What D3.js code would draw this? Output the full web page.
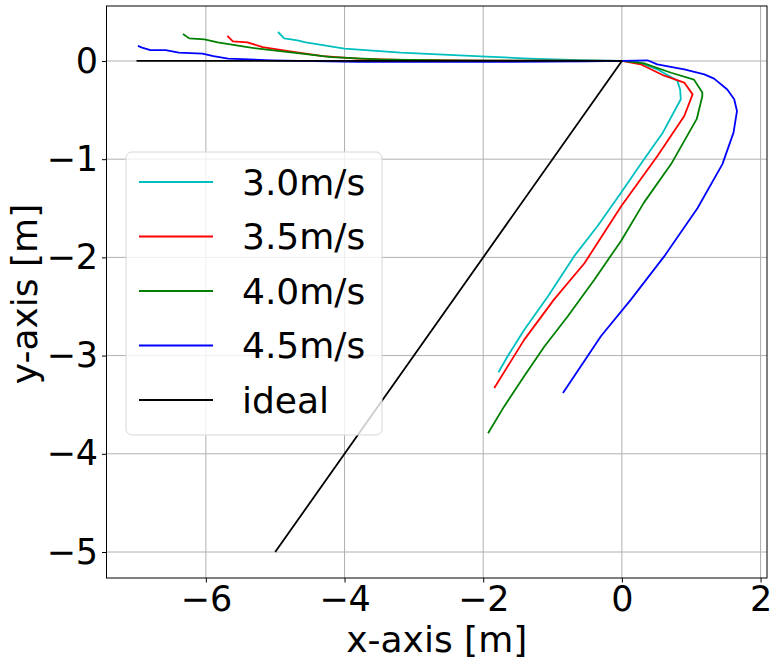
<!DOCTYPE html>
<html>
<head>
<meta charset="utf-8">
<script src="https://cdn.jsdelivr.net/npm/d3@7"></script>
<style>
  body { margin: 0; background: #fff; }
  text { font-family: "DejaVu Sans", sans-serif; fill: #000; }
</style>
</head>
<body>
<div id="chart"></div>
<script>
// trajectories (metres)
var v30X = [-4.96, -4.87, -4.68, -4.56, -4.0, -3.19, -1.95, -1.33, -0.6, 0, 0.23, 0.51, 0.80, 0.84, 0.85, 0.59, 0.32, -0.01, -0.35, -0.69, -1.07, -1.41, -1.65, -1.78];
var v30Y = [0.295, 0.23, 0.21, 0.19, 0.125, 0.085, 0.044, 0.024, 0.008, 0, -0.01, -0.085, -0.20, -0.29, -0.39, -0.73, -1.0, -1.34, -1.68, -1.99, -2.40, -2.74, -3.01, -3.17];

var v35X = [-5.69, -5.61, -5.40, -5.18, -4.81, -4.31, -3.81, -3.19, -2.0, -1.0, 0, 0.27, 0.61, 0.90, 1.02, 0.90, 0.51, -0.01, -0.54, -0.98, -1.41, -1.84];
var v35Y = [0.255, 0.20, 0.19, 0.14, 0.10, 0.05, 0.024, 0.01, 0.004, 0.002, 0, -0.034, -0.15, -0.22, -0.34, -0.56, -0.97, -1.48, -2.06, -2.43, -2.84, -3.33];

var v40X = [-6.33, -6.24, -6.02, -5.83, -5.40, -5.18, -4.68, -4.19, -3.5, -2.57, -1.0, 0, 0.32, 0.71, 1.04, 1.16, 1.16, 1.08, 0.71, 0.32, -0.01, -0.40, -0.78, -1.12, -1.41, -1.70, -1.93];
var v40Y = [0.275, 0.23, 0.22, 0.19, 0.14, 0.12, 0.08, 0.04, 0.017, 0.007, 0.002, 0, -0.024, -0.12, -0.19, -0.32, -0.36, -0.59, -1.05, -1.44, -1.83, -2.23, -2.60, -2.91, -3.21, -3.52, -3.79];

var v45X = [-6.98, -6.92, -6.80, -6.58, -6.39, -6.05, -5.89, -5.68, -5.06, -3.81, -1.95, -0.5, 0, 0.37, 0.51, 0.90, 1.19, 1.33, 1.52, 1.62, 1.66, 1.61, 1.45, 1.09, 0.61, 0.13, -0.30, -0.85];
var v45Y = [0.153, 0.136, 0.11, 0.11, 0.085, 0.075, 0.05, 0.024, 0.007, -0.01, -0.01, -0.005, 0, 0.007, -0.034, -0.085, -0.136, -0.18, -0.29, -0.39, -0.51, -0.73, -1.05, -1.50, -1.99, -2.43, -2.80, -3.38];

var idealX = [-7, 0, -5];
var idealY = [0, 0, -5];

var labels = ["3.0m/s", "3.5m/s", "4.0m/s", "4.5m/s", "ideal"];
var colors = ["#00bfbf", "#ff0000", "#008000", "#0000ff", "#000000"];
var xTicks = [-6, -4, -2, 0, 2];
var yTicks = [0, -1, -2, -3, -4, -5];

var series = [[v30X, v30Y], [v35X, v35Y], [v40X, v40Y], [v45X, v45Y], [idealX, idealY]].map(function(s, i) {
    return { name: labels[i], color: colors[i], pts: s[0].map(function(x, j) { return [x, s[1][j]]; }) };
});

// --> DRAWING AREA
var width = 778, height = 661;
var margin = {top: 6, right: 11, bottom: 83, left: 106.5};
var w = width - margin.left - margin.right;
var h = height - margin.top - margin.bottom;

var svg = d3.select("#chart").append("svg")
    .attr("width", width)
    .attr("height", height);
var g = svg.append("g")
    .attr("transform", "translate(" + margin.left + "," + margin.top + ")");

// matplotlib style 5% padding
function padded(vals) {
    var e = d3.extent(vals), p = (e[1] - e[0]) * 0.05;
    return [e[0] - p, e[1] + p];
}
var allX = [].concat(v30X, v35X, v40X, v45X, idealX);
var allY = [].concat(v30Y, v35Y, v40Y, v45Y, idealY);

var x = d3.scaleLinear().domain(padded(allX)).range([0, w]);
var y = d3.scaleLinear().domain(padded(allY)).range([h, 0]);

// grid
g.append("g").selectAll("line").data(xTicks).enter().append("line")
    .attr("x1", function(d) { return x(d); }).attr("x2", function(d) { return x(d); })
    .attr("y1", 0).attr("y2", h)
    .attr("stroke", "#b0b0b0").attr("stroke-width", 1);
g.append("g").selectAll("line").data(yTicks).enter().append("line")
    .attr("y1", function(d) { return y(d); }).attr("y2", function(d) { return y(d); })
    .attr("x1", 0).attr("x2", w)
    .attr("stroke", "#b0b0b0").attr("stroke-width", 1);

// lines
var line = d3.line()
    .x(function(d) { return x(d[0]); })
    .y(function(d) { return y(d[1]); });

g.selectAll(".traj").data(series).enter().append("path")
    .attr("class", "traj")
    .attr("d", function(d) { return line(d.pts); })
    .attr("fill", "none")
    .attr("stroke", function(d) { return d.color; })
    .attr("stroke-width", 1.8)
    .attr("stroke-linejoin", "round");

// axes
var fmt = function(d) { return d < 0 ? "\u2212" + Math.abs(d) : "" + d; };
var xAxis = g.append("g").attr("transform", "translate(0," + h + ")")
    .call(d3.axisBottom(x).tickValues(xTicks).tickFormat(fmt).tickSize(4.5).tickPadding(4));
var yAxis = g.append("g")
    .call(d3.axisLeft(y).tickValues(yTicks).tickFormat(fmt).tickSize(4.5).tickPadding(4));
[xAxis, yAxis].forEach(function(a) {
    a.select(".domain").remove();
    a.selectAll("text").style("font-size", "35px").style("font-family", "DejaVu Sans");
    a.selectAll("line").attr("stroke", "#000").attr("stroke-width", 1);
});

g.append("rect")
    .attr("width", w).attr("height", h)
    .attr("fill", "none").attr("stroke", "#000").attr("stroke-width", 1);

// axis labels
svg.append("text")
    .attr("x", margin.left + w / 2).attr("y", 652)
    .attr("text-anchor", "middle")
    .style("font-size", "36px")
    .text("x-axis [m]");
svg.append("text")
    .attr("transform", "translate(37," + (margin.top + h / 2 + 2) + ") rotate(-90)")
    .attr("text-anchor", "middle")
    .style("font-size", "36px")
    .text("y-axis [m]");

// legend
var legend = svg.append("g").attr("transform", "translate(126,152)");
legend.append("rect")
    .attr("width", 256).attr("height", 283)
    .attr("rx", 6).attr("ry", 6)
    .attr("fill", "rgba(255,255,255,0.8)")
    .attr("stroke", "#d6d6d6").attr("stroke-width", 1);

var item = legend.selectAll(".item").data(series).enter().append("g")
    .attr("class", "item")
    .attr("transform", function(d, i) { return "translate(0," + (30 + i * 54.5) + ")"; });
item.append("line")
    .attr("x1", 13).attr("x2", 87)
    .attr("stroke", function(d) { return d.color; })
    .attr("stroke-width", 1.8);
item.append("text")
    .attr("x", 116).attr("dy", "0.36em")
    .style("font-size", "36px")
    .text(function(d) { return d.name; });
</script>
</body>
</html>
